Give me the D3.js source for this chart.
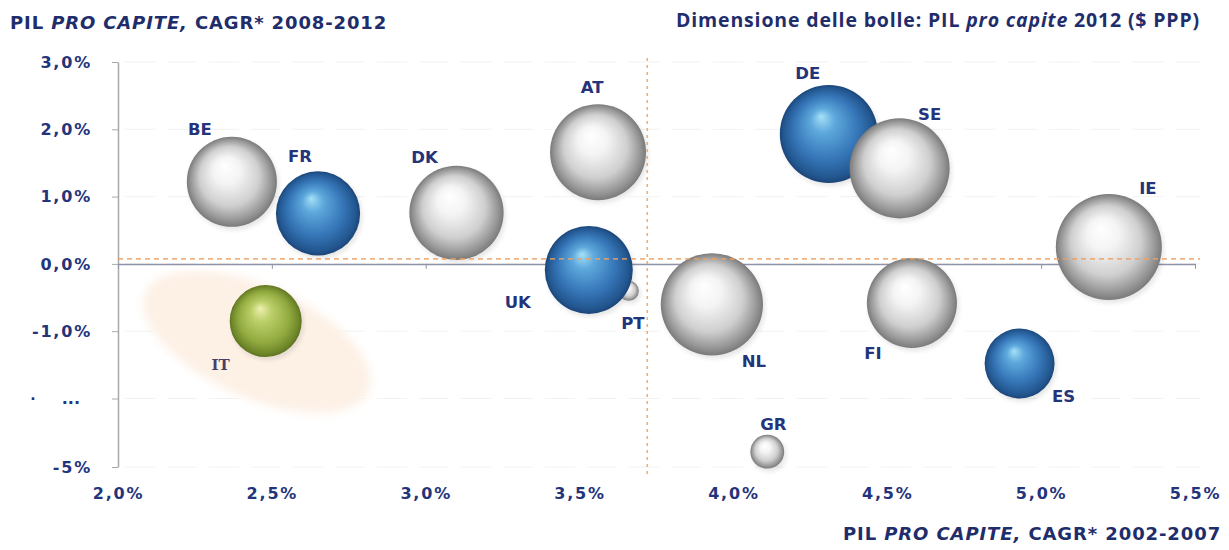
<!DOCTYPE html>
<html>
<head>
<meta charset="utf-8">
<script src="https://d3js.org/d3.v7.min.js"></script>
<style>
  body { margin: 0; background: #fff; }
  svg text { font-family: "DejaVu Sans", Verdana, sans-serif; }
  .lbl { font-weight: bold; font-size: 16.5px; fill: #24347a; }
  .tick text { font-family: "DejaVu Sans", Verdana, sans-serif; font-weight: bold; font-size: 16px; fill: #24347a; letter-spacing: 1.8px; }
</style>
</head>
<body>
<div id="chart"></div>
<script>
// data
var countries = ["PT", "BE", "FR", "DK", "AT", "UK", "NL", "GR", "DE", "SE", "IE", "FI", "ES", "IT"];
var cagr0207 = [3.66, 2.37, 2.65, 3.10, 3.56, 3.53, 3.93, 4.11, 4.31, 4.54, 5.22, 4.58, 4.93, 2.48];
var cagr0812 = [-0.40, 1.22, 0.75, 0.76, 1.66, -0.09, -0.60, -4.33, 1.93, 1.42, 0.25, -0.58, -1.48, -0.85];
var pil2012 = [24000, 40700, 39300, 41700, 42100, 40200, 43600, 27300, 42600, 43100, 44500, 40700, 35900, 36400];
var colour = ["grey", "grey", "blue", "grey", "grey", "blue", "grey", "grey", "blue", "grey", "grey", "grey", "blue", "green"];
// label offsets from bubble centre
var lblDx = [4, -32, -18, -32, -6, -71, 42, 6, -21, 30, 39, -39, 44, -45];
var lblDy = [32, -53, -57, -56, -65, 32, 57, -28, -61, -54, -59, 50, 33, 43];

var xTicks = [2, 2.5, 3, 3.5, 4, 4.5, 5, 5.5];
var yTicks = [3, 2, 1, 0, -1, -2, -5];
var yTickLabels = {"3": "3,0%", "2": "2,0%", "1": "1,0%", "0": "0,0%", "-1": "-1,0%", "-2": "...", "-5": "-5%"};
var avgX = 3.72, avgY = 0.075;

var W = 1229, H = 550;
var svg = d3.select("#chart").append("svg").attr("width", W).attr("height", H);

var x = d3.scaleLinear().domain([2, 5.5]).range([118, 1195]);
// broken axis: -2 .. -5 squeezed into one step
var y = d3.scaleLinear().domain([-5, -2, 3]).range([467, 398.5, 62]);
var r = d3.scaleLinear().domain([24000, 44500]).range([10, 53]);

var defs = svg.append("defs");
var grads = {
  grey: [["0%", "#ffffff"], ["30%", "#f4f4f4"], ["66%", "#cfcfcf"], ["90%", "#959595"], ["100%", "#7a7a7a"]],
  blue: [["0%", "#a6e0f7"], ["25%", "#5da8dc"], ["65%", "#3676b8"], ["92%", "#22568f"], ["100%", "#1b4578"]],
  green: [["0%", "#eef0b0"], ["28%", "#bccf6a"], ["70%", "#92ab40"], ["93%", "#6e8629"], ["100%", "#5d7220"]]
};
Object.keys(grads).forEach(function (k) {
  var g = defs.append("radialGradient").attr("id", "g-" + k)
    .attr("cx", "50%").attr("cy", "50%").attr("r", "50%")
    .attr("fx", "42%").attr("fy", "32%");
  grads[k].forEach(function (s) { g.append("stop").attr("offset", s[0]).attr("stop-color", s[1]); });
});
defs.append("filter").attr("id", "blur").attr("x", "-20%").attr("y", "-20%").attr("width", "140%").attr("height", "140%")
  .append("feGaussianBlur").attr("stdDeviation", 4);
defs.append("filter").attr("id", "soft").attr("x", "-30%").attr("y", "-30%").attr("width", "160%").attr("height", "160%")
  .append("feGaussianBlur").attr("stdDeviation", 2.5);

// faint grid
svg.append("g").selectAll("line").data(yTicks).enter().append("line")
  .attr("x1", 125).attr("x2", 1200)
  .attr("y1", function (d) { return y(d); }).attr("y2", function (d) { return y(d); })
  .attr("stroke", "#f2f2f2").attr("stroke-dasharray", "30,12");

// Italy highlight
svg.append("ellipse")
  .attr("cx", 257).attr("cy", 342).attr("rx", 122).attr("ry", 56)
  .attr("transform", "rotate(24,257,342)")
  .attr("fill", "#fdf1e6").attr("filter", "url(#blur)");

// y axis
var yAxis = svg.append("g").attr("transform", "translate(118,0)")
  .call(d3.axisLeft(y).tickValues(yTicks).tickSizeInner(6).tickSizeOuter(0).tickPadding(20)
    .tickFormat(function (d) { return yTickLabels[d]; }));
yAxis.select(".domain").attr("stroke", "#a9a9a9").attr("stroke-width", 1.5);
yAxis.selectAll(".tick line").attr("stroke", "#a9a9a9");
yAxis.selectAll(".tick text").filter(function (d) { return d === -2; }).attr("x", -38).style("letter-spacing", "0px");

// x axis line at 0 with ticks
var xAxis = svg.append("g").attr("transform", "translate(0," + y(0) + ")")
  .call(d3.axisBottom(x).tickValues(xTicks).tickSizeInner(5).tickSizeOuter(0).tickFormat(""));
xAxis.select(".domain").attr("stroke", "#8f94a8").attr("stroke-width", 1.5);
xAxis.selectAll(".tick line").attr("stroke", "#8f94a8");

// x labels at the bottom
var xLab = svg.append("g").attr("transform", "translate(0,482)")
  .call(d3.axisBottom(x).tickValues(xTicks).tickSize(0).tickPadding(6)
    .tickFormat(function (d) { return d3.format(".1f")(d).replace(".", ",") + "%"; }));
xLab.select(".domain").remove();

// stray mark left of the axis
svg.append("text").attr("x", 33).attr("y", 404).attr("text-anchor", "middle")
  .attr("font-size", 14).attr("font-weight", "bold").attr("fill", "#24347a").text("·");

// bubbles
var idx = d3.range(countries.length);
var b = svg.append("g");
b.selectAll("circle.shadow").data(idx).enter().append("circle")
  .attr("cx", function (i) { return x(cagr0207[i]) + 2; })
  .attr("cy", function (i) { return y(cagr0812[i]) + 3; })
  .attr("r", function (i) { return r(pil2012[i]); })
  .attr("fill", "#000").attr("opacity", 0.1).attr("filter", "url(#soft)");
b.selectAll("circle.ball").data(idx).enter().append("circle")
  .attr("cx", function (i) { return x(cagr0207[i]); })
  .attr("cy", function (i) { return y(cagr0812[i]); })
  .attr("r", function (i) { return r(pil2012[i]); })
  .attr("fill", function (i) { return "url(#g-" + colour[i] + ")"; });

// average lines
svg.append("line")
  .attr("x1", 118).attr("x2", 1200).attr("y1", y(avgY)).attr("y2", y(avgY))
  .attr("stroke", "#f0a060").attr("stroke-width", 1.6).attr("stroke-dasharray", "5,4").attr("opacity", 0.8);
svg.append("line")
  .attr("x1", x(avgX)).attr("x2", x(avgX)).attr("y1", 58).attr("y2", 475)
  .attr("stroke", "#f0a060").attr("stroke-width", 1.6).attr("stroke-dasharray", "3,4").attr("opacity", 0.85);

// country labels
svg.append("g").selectAll("text").data(idx).enter().append("text")
  .attr("class", "lbl")
  .attr("text-anchor", "middle")
  .attr("dy", "0.36em")
  .attr("x", function (i) { return x(cagr0207[i]) + lblDx[i]; })
  .attr("y", function (i) { return y(cagr0812[i]) + lblDy[i]; })
  .style("fill", function (i) { return countries[i] === "IT" ? "#463f6a" : null; })
  .style("font-family", function (i) { return countries[i] === "IT" ? "'DejaVu Serif', serif" : null; })
  .style("font-size", function (i) { return countries[i] === "IT" ? "15px" : null; })
  .text(function (i) { return countries[i]; });

// titles
function fit(sel, target) {
  var node = sel.node();
  var len = node.getComputedTextLength();
  var n = node.textContent.length;
  sel.attr("letter-spacing", (target - len) / n);
}

var t1 = svg.append("text").attr("x", 10).attr("y", 29)
  .attr("font-size", 18).attr("font-weight", "bold").attr("fill", "#1f2d6b");
t1.append("tspan").text("PIL ");
t1.append("tspan").attr("font-style", "italic").text("PRO CAPITE,");
t1.append("tspan").text(" CAGR*  2008-2012");
fit(t1, 378);

var t2 = svg.append("text").attr("x", 843).attr("y", 540)
  .attr("font-size", 18).attr("font-weight", "bold").attr("fill", "#1f2d6b");
t2.append("tspan").text("PIL ");
t2.append("tspan").attr("font-style", "italic").text("PRO CAPITE,");
t2.append("tspan").text(" CAGR*  2002-2007");
fit(t2, 379);

var t3 = svg.append("text").attr("x", 676).attr("y", 27)
  .style("font-family", "'Open Sans', Lato, sans-serif")
  .attr("font-size", 19.5).attr("font-weight", "bold").attr("fill", "#1f2d6b");
t3.append("tspan").text("Dimensione delle bolle: PIL ");
t3.append("tspan").attr("font-style", "italic").text("pro capite");
t3.append("tspan").text(" 2012 ($ PPP)");
fit(t3, 524);
</script>
</body>
</html>
